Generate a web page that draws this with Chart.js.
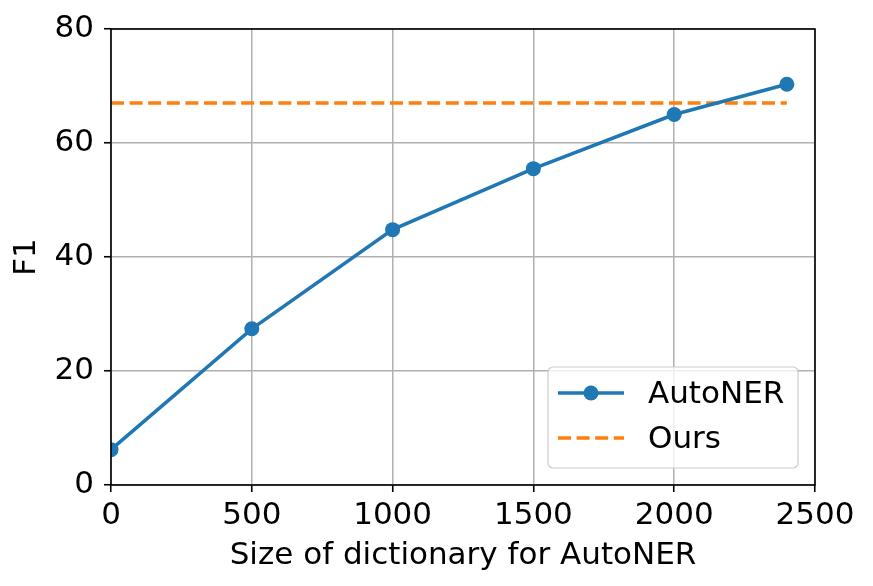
<!DOCTYPE html>
<html>
<head>
<meta charset="utf-8">
<script src="https://cdn.jsdelivr.net/npm/chart.js@4"></script>
<style>
  html, body { margin: 0; padding: 0; background: #fff; }
  canvas { display: block; }
</style>
</head>
<body>
<canvas id="chart" width="873" height="586"></canvas>
<script>
// Values
const dictSizes = [0, 500, 1000, 1500, 2000, 2400];
const autonerF1 = [6.2, 27.4, 44.8, 55.5, 65.0, 70.3];
const oursX = [0, 2400];
const oursF1 = [67.0, 67.0];
const xTicks = [0, 500, 1000, 1500, 2000, 2500];
const yTicks = [0, 20, 40, 60, 80];

const FONT = "'DejaVu Sans', sans-serif";
const BLUE = '#1f77b4';
const ORANGE = '#ff7f0e';

// black frame around the plot area (drawn above the lines, like spines)
const framePlugin = {
    id: 'frame',
    afterDatasetsDraw(chart) {
        const a = chart.chartArea;
        const ctx = chart.ctx;
        ctx.save();
        ctx.strokeStyle = '#000';
        ctx.lineWidth = 1.6;
        ctx.strokeRect(a.left, a.top, a.right - a.left, a.bottom - a.top);
        ctx.restore();
    }
};

// legend box in the lower right corner of the plot
const legendPlugin = {
    id: 'innerLegend',
    afterDraw(chart) {
        const a = chart.chartArea;
        const ctx = chart.ctx;
        const w = 250, h = 101;
        const x = a.right - 17 - w;
        const y = a.bottom - 17 - h;
        ctx.save();
        ctx.beginPath();
        ctx.roundRect(x, y, w, h, 5);
        ctx.fillStyle = 'rgba(255,255,255,0.8)';
        ctx.fill();
        ctx.strokeStyle = '#cccccc';
        ctx.lineWidth = 1.2;
        ctx.stroke();

        ctx.font = '31px ' + FONT;
        ctx.textBaseline = 'middle';
        ctx.fillStyle = '#000';
        chart.data.datasets.forEach((ds, i) => {
            const rowY = y + 26 + i * 45;
            ctx.beginPath();
            ctx.strokeStyle = ds.borderColor;
            ctx.lineWidth = ds.borderWidth;
            ctx.setLineDash(ds.borderDash || []);
            ctx.moveTo(x + 10, rowY);
            ctx.lineTo(x + 76, rowY);
            ctx.stroke();
            ctx.setLineDash([]);
            if (ds.pointRadius > 0) {
                ctx.beginPath();
                ctx.fillStyle = ds.backgroundColor;
                ctx.arc(x + 43, rowY, ds.pointRadius, 0, Math.PI * 2);
                ctx.fill();
            }
            ctx.fillStyle = '#000';
            ctx.fillText(ds.label, x + 100, rowY + 2);
        });
        ctx.restore();
    }
};

new Chart(document.getElementById('chart'), {
    type: 'line',
    data: {
        datasets: [
            {
                label: 'AutoNER',
                data: dictSizes.map((s, i) => ({ x: s, y: autonerF1[i] })),
                borderColor: BLUE,
                backgroundColor: BLUE,
                borderWidth: 3.5,
                pointRadius: 7.5,
                pointHoverRadius: 7.5,
                pointBorderWidth: 0,
                tension: 0,
                clip: 0
            },
            {
                label: 'Ours',
                data: oursX.map((s, i) => ({ x: s, y: oursF1[i] })),
                borderColor: ORANGE,
                backgroundColor: ORANGE,
                borderWidth: 3.5,
                borderDash: [13, 5.6],
                pointRadius: 0,
                tension: 0,
                clip: 0
            }
        ]
    },
    options: {
        responsive: false,
        animation: false,
        devicePixelRatio: 1,
        layout: { padding: { left: 0, top: 29, right: 58, bottom: 0 } },
        plugins: {
            legend: { display: false },
            tooltip: { enabled: false }
        },
        scales: {
            x: {
                type: 'linear',
                min: xTicks[0],
                max: xTicks[xTicks.length - 1],
                afterBuildTicks: (scale) => { scale.ticks = xTicks.map(v => ({ value: v })); },
                afterFit: (scale) => { scale.height = 101; },
                ticks: {
                    color: '#000',
                    font: { family: FONT, size: 31 },
                    padding: 5,
                    maxRotation: 0,
                    callback: v => String(v)
                },
                grid: {
                    color: '#b0b0b0',
                    lineWidth: 1.5,
                    tickColor: '#000',
                    tickLength: 7,
                    tickWidth: 1.6
                },
                border: { display: false },
                title: {
                    display: true,
                    text: 'Size of dictionary for AutoNER',
                    color: '#000',
                    font: { family: FONT, size: 31 },
                    padding: { top: 0, bottom: 11 }
                }
            },
            y: {
                min: yTicks[0],
                max: yTicks[yTicks.length - 1],
                afterBuildTicks: (scale) => { scale.ticks = yTicks.map(v => ({ value: v })); },
                afterFit: (scale) => { scale.width = 111; },
                ticks: {
                    color: '#000',
                    font: { family: FONT, size: 31 },
                    padding: 10,
                    callback: v => String(v)
                },
                grid: {
                    color: '#b0b0b0',
                    lineWidth: 1.5,
                    tickColor: '#000',
                    tickLength: 7,
                    tickWidth: 1.6
                },
                border: { display: false },
                title: {
                    display: true,
                    text: 'F1',
                    color: '#000',
                    font: { family: FONT, size: 31 },
                    padding: { top: 8, bottom: 0 }
                }
            }
        }
    },
    plugins: [framePlugin, legendPlugin]
});
</script>
</body>
</html>
